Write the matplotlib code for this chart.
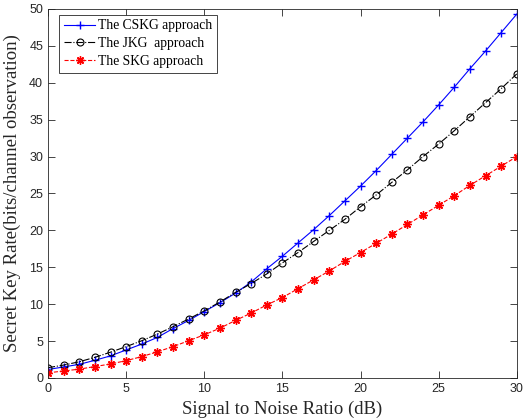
import numpy as np
import matplotlib
matplotlib.use("Agg")
import matplotlib.pyplot as plt

snr = list(range(0, 31))
cskg = [1.15, 1.5, 1.85, 2.4, 3.0, 3.8, 4.6, 5.5, 6.7, 7.8, 9.0, 10.2, 11.5, 13.0, 14.8,
        16.5, 18.3, 20.1, 22.0, 24.0, 26.0, 28.1, 30.3, 32.5, 34.7, 37.0, 39.4, 41.9, 44.3, 46.8, 49.3]
jkg = [1.4, 1.75, 2.2, 2.8, 3.5, 4.25, 5.05, 5.95, 6.95, 8.0, 9.1, 10.3, 11.6, 12.8, 14.1,
       15.6, 17.0, 18.5, 20.0, 21.5, 23.2, 24.8, 26.5, 28.2, 30.0, 31.7, 33.5, 35.4, 37.3, 39.2, 41.2]
skg = [0.7, 0.95, 1.2, 1.55, 1.9, 2.35, 2.9, 3.55, 4.25, 5.05, 5.85, 6.75, 7.8, 8.8, 9.9,
       10.9, 12.1, 13.3, 14.5, 15.8, 17.0, 18.25, 19.5, 20.8, 22.1, 23.4, 24.7, 26.1, 27.4, 28.7, 30.0]

axcol = '#262626'

fig = plt.figure(figsize=(5.3, 4.2), dpi=100)
ax = fig.add_axes([0.0906, 0.1, 0.8844, 0.8786])

ax.plot(snr, cskg, '-', color='blue', marker='+', markersize=6, markeredgewidth=1,
        linewidth=0.8, label='The CSKG approach')
ax.plot(snr, jkg, '-.', color='black', marker='o', markersize=5, markerfacecolor='none',
        markeredgewidth=0.8, linewidth=0.8, label='The JKG  approach')
# asterisk marker like matlab '*'
ax.plot(snr, skg, '--', color='red', marker=(8, 2, 0), markersize=6, markeredgewidth=1,
        linewidth=0.8, label='The SKG approach')

ax.set_xlim(0, 30)
ax.set_ylim(0, 50)
ax.set_xticks([0, 5, 10, 15, 20, 25, 30])
ax.set_yticks([0, 5, 10, 15, 20, 25, 30, 35, 40, 45, 50])
ax.tick_params(direction='in', top=True, right=True, labelsize=9, length=5,
               color=axcol, labelcolor=axcol, width=0.6)
for s in ax.spines.values():
    s.set_color(axcol)
    s.set_linewidth(0.6)
for lbl in ax.get_xticklabels() + ax.get_yticklabels():
    lbl.set_fontfamily('Liberation Sans')

ax.set_xlabel('Signal to Noise Ratio (dB)', fontfamily='Liberation Serif', fontsize=13.5,
              color=axcol)
ax.set_ylabel('Secret Key Rate(bits/channel observation)', fontfamily='Liberation Serif',
              fontsize=13.5, color=axcol, labelpad=6)

leg = ax.legend(loc='upper left', bbox_to_anchor=(0.024, 0.985),
                prop={'family': 'Liberation Serif', 'size': 9.8},
                fancybox=False, edgecolor=axcol, framealpha=1, borderaxespad=0,
                handlelength=2.3, handletextpad=0.2, labelspacing=0.35, borderpad=0.35)
leg.get_frame().set_linewidth(0.6)

fig.savefig('out.png', dpi=100)
